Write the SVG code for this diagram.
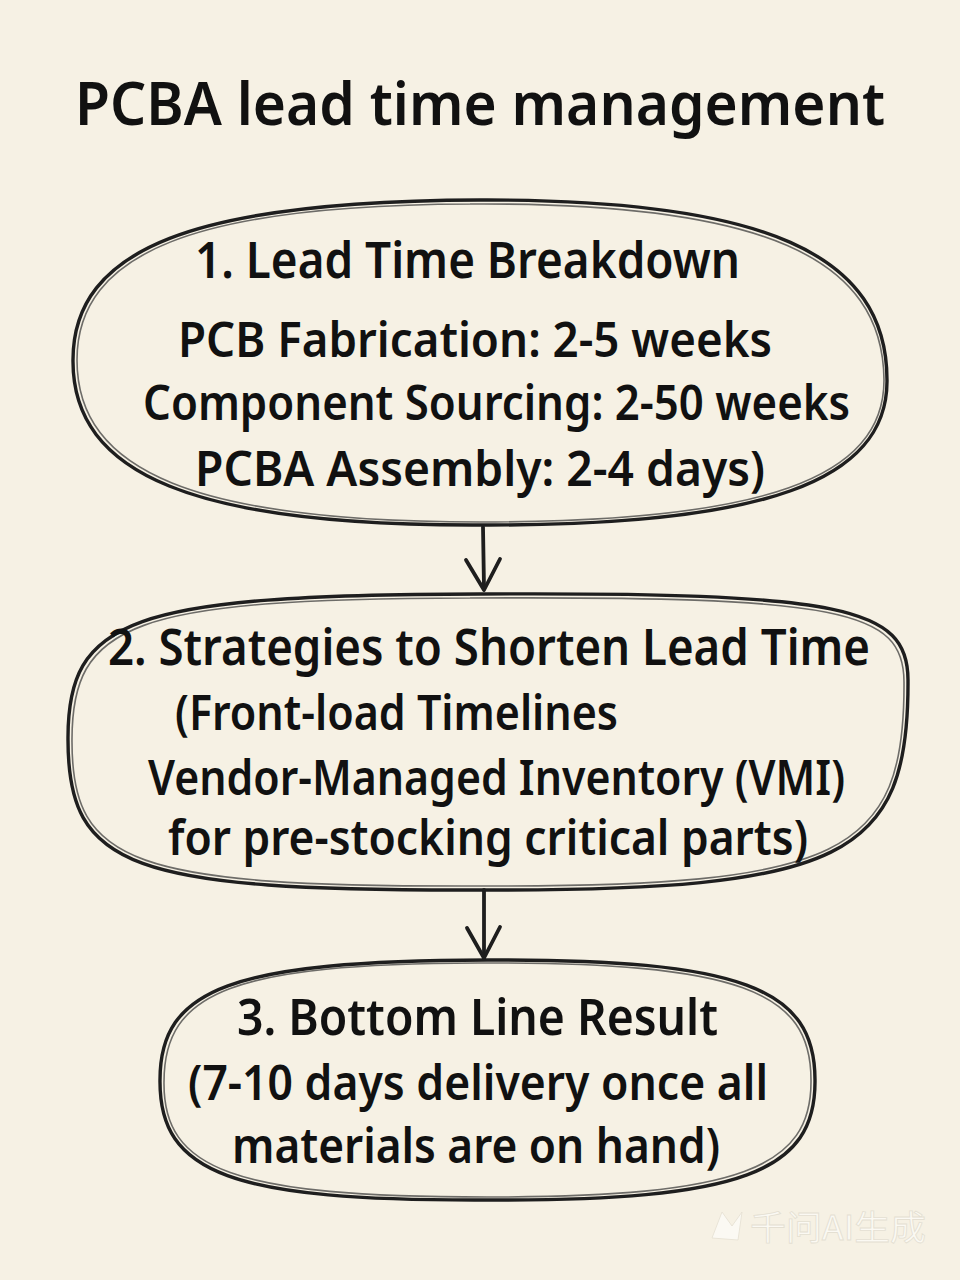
<svg xmlns="http://www.w3.org/2000/svg" width="960" height="1280" viewBox="0 0 960 1280">
<style>
  .t { font-family: "Noto Sans", "Liberation Sans", sans-serif; font-weight: 600; fill: #111; }
  .title { font-size: 60px; }
  .h { font-size: 50px; }
  .b { font-size: 48px; }
  .shape { fill: none; stroke: #1e1e1e; stroke-width: 3.4; stroke-linejoin: round; }
  .shape2 { fill: none; stroke: #333; stroke-width: 1.6; opacity: 0.7; }
  .conn { fill: none; stroke: #1e1e1e; stroke-width: 3.8; stroke-linecap: round; stroke-linejoin: round; }
  .wm { font-family: "Noto Sans CJK SC", "Noto Sans", sans-serif; font-size: 34px; fill: #fbf9f3; stroke: #e4dfd2; stroke-width: 0.8; }
</style>
<rect x="0" y="0" width="960" height="1280" fill="#f6f1e4"/>

<g id="title">
  <text class="t title" x="75" y="125" textLength="810" lengthAdjust="spacingAndGlyphs">PCBA lead time management</text>
</g>

<g id="connectors">
  <path class="conn" d="M 483,527 L 484,588" />
  <path class="conn" d="M 466,560 L 484,590 L 500,559" />
  <path class="conn" d="M 484,890 L 484,958" />
  <path class="conn" d="M 467,928 L 484,958 L 500,927" />
</g>

<g id="node1">
  <path class="shape" d="M 480,200 C 765,199 887,254 887,380 C 888,481 765,526 480,525 C 195,526 72,475 73,360 C 73,248 195,201 480,200 Z"/>
  <path class="shape2" d="M 470,204 C 765,202 883,258 884,380 C 884,478 765,522 480,522 C 196,522 77,472 77,360 C 77,252 196,205 470,204"/>
  <text class="t h" x="195" y="278" textLength="545" lengthAdjust="spacingAndGlyphs">1. Lead Time Breakdown</text>
  <text class="t b" x="178" y="357" textLength="594" lengthAdjust="spacingAndGlyphs">PCB Fabrication: 2-5 weeks</text>
  <text class="t b" x="143" y="420" textLength="707" lengthAdjust="spacingAndGlyphs">Component Sourcing: 2-50 weeks</text>
  <text class="t b" x="195" y="486" textLength="570" lengthAdjust="spacingAndGlyphs">PCBA Assembly: 2-4 days)</text>
</g>

<g id="node2">
  <path class="shape" d="M 480,594 C 844,592 908,607 908,680 C 909,858 844,891 480,890 C 130,891 68,868 68,740 C 67,618 130,595 480,594 Z"/>
  <path class="shape2" d="M 470,598 C 842,596 904,610 904,682 C 905,855 842,887 480,886 C 132,887 72,864 72,742 C 71,622 132,599 470,598"/>
  <text class="t h" x="108" y="665" textLength="762" lengthAdjust="spacingAndGlyphs">2. Strategies to Shorten Lead Time</text>
  <text class="t b" x="175" y="730" textLength="443" lengthAdjust="spacingAndGlyphs">(Front-load Timelines</text>
  <text class="t b" x="148" y="795" textLength="697" lengthAdjust="spacingAndGlyphs">Vendor-Managed Inventory (VMI)</text>
  <text class="t b" x="168" y="855" textLength="640" lengthAdjust="spacingAndGlyphs">for pre-stocking critical parts)</text>
</g>

<g id="node3">
  <path class="shape" d="M 487,960 C 742,959 815,988 815,1080 C 816,1172 742,1201 487,1200 C 232,1201 159,1174 160,1080 C 160,988 232,961 487,960 Z"/>
  <path class="shape2" d="M 478,963 C 740,962 811,991 811,1080 C 812,1168 740,1197 487,1197 C 234,1197 163,1170 164,1082 C 164,991 234,964 478,963"/>
  <text class="t h" x="237" y="1035" textLength="481" lengthAdjust="spacingAndGlyphs">3. Bottom Line Result</text>
  <text class="t b" x="188" y="1100" textLength="580" lengthAdjust="spacingAndGlyphs">(7-10 days delivery once all</text>
  <text class="t b" x="232" y="1163" textLength="488" lengthAdjust="spacingAndGlyphs">materials are on hand)</text>
</g>

<g id="watermark">
  <path d="M 712,1238 L 722,1212 L 732,1226 L 742,1212 L 738,1240 Z" fill="#fbf9f3" stroke="#e4dfd2" stroke-width="0.8"/>
  <text class="wm" x="750" y="1240" textLength="176" lengthAdjust="spacingAndGlyphs">千问AI生成</text>
</g>
</svg>
